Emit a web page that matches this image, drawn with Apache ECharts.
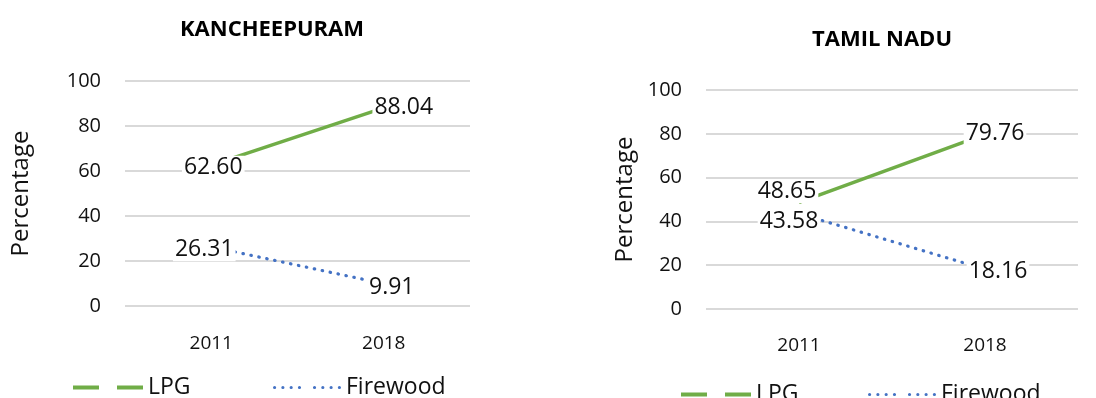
<!DOCTYPE html>
<html>
<head>
<meta charset="utf-8">
<script src="https://cdn.jsdelivr.net/npm/echarts@6/dist/echarts.min.js"></script>
<style>
  html, body { margin: 0; padding: 0; background: #ffffff; }
  #chart { width: 1096px; height: 398px; }
</style>
</head>
<body>
<div id="chart"></div>
<script>
// Household cooking fuel share (%), census 2011 vs survey 2018
const years = ['2011', '2018'];
const yTicks = [0, 20, 40, 60, 80, 100];

const kancheepuramLPG = [62.60, 88.04];
const kancheepuramFirewood = [26.31, 9.91];
const tamilNaduLPG = [48.65, 79.76];
const tamilNaduFirewood = [43.58, 18.16];

const FONT = '"Open Sans", "DejaVu Sans", sans-serif';
const GREEN = '#70AD47';
const BLUE = '#4472C4';
const GRID_GRAY = '#d9d9d9';

// Per-point label nudges so the value boxes sit clear of the lines
const labelNudge = {
  kLPG: [[2, 2], [20, 0]],
  kFire: [[-7, 3], [8, 4]],
  tLPG: [[-12, -11], [10, -1]],
  tFire: [[-10, 8], [13, 2]]
};

function points(values, nudges) {
  return values.map((v, i) => ({
    value: v,
    label: { offset: nudges[i] }
  }));
}

const valueLabel = {
  show: true,
  position: 'inside',
  fontFamily: FONT,
  fontSize: 23,
  color: '#111',
  backgroundColor: '#ffffff',
  padding: [0, 2],
  formatter: p => Number(p.value).toFixed(2)
};

// Legend glyphs: a long-dash pair for LPG, two runs of round dots for Firewood
function dotRun(x0, count, step, r) {
  let d = '';
  for (let i = 0; i < count; i++) {
    const cx = x0 + i * step;
    d += 'M' + (cx - r) + ',' + r + ' a' + r + ',' + r + ' 0 1,0 ' + (2 * r) + ',0 a' + r + ',' + r + ' 0 1,0 ' + (-2 * r) + ',0 ';
  }
  return d;
}
const LPG_ICON = 'path://M0,0h26v4h-26z M44,0h26v4h-26z';
const FIRE_ICON = 'path://' + dotRun(1.6, 4, 8.3, 1.6) + dotRun(41.6, 4, 8.3, 1.6);

function yAxis(gridIndex, nameGap) {
  return {
    type: 'value',
    gridIndex: gridIndex,
    min: yTicks[0],
    max: yTicks[yTicks.length - 1],
    interval: yTicks[1] - yTicks[0],
    name: 'Percentage',
    nameLocation: 'middle',
    nameGap: nameGap,
    nameTextStyle: { fontFamily: FONT, fontSize: 24, color: '#111' },
    axisLine: { show: false },
    axisTick: { show: false },
    axisLabel: { fontFamily: FONT, fontSize: 20, color: '#111', margin: 24 },
    splitLine: { lineStyle: { color: GRID_GRAY, width: 2 } }
  };
}

function xAxis(gridIndex, margin) {
  return {
    type: 'category',
    gridIndex: gridIndex,
    data: years,
    boundaryGap: true,
    axisLine: { show: false },
    axisTick: { show: false },
    axisLabel: { fontFamily: FONT, fontSize: 19, color: '#111', margin: margin },
    splitLine: { show: false }
  };
}

function lineSeries(name, idx, values, nudges, color, lineStyle) {
  return {
    name: name,
    type: 'line',
    xAxisIndex: idx,
    yAxisIndex: idx,
    data: points(values, nudges),
    symbol: 'circle',
    symbolSize: 0.1,
    showSymbol: true,
    lineStyle: Object.assign({ color: color }, lineStyle),
    itemStyle: { color: color },
    label: valueLabel,
    emphasis: { disabled: true },
    z: 2
  };
}

const lpgStyle = { width: 3.5 };
const fireStyle = { width: 3.2, type: [0.5, 7.6], cap: 'round' };

function legendItem(name, left, top) {
  const isLPG = name === 'LPG';
  return {
    left: left,
    top: top,
    data: [{ name: name, icon: isLPG ? LPG_ICON : FIRE_ICON }],
    itemWidth: isLPG ? 70 : 68,
    itemHeight: isLPG ? 4 : 3.2,
    itemGap: 6,
    selectedMode: false,
    itemStyle: { color: isLPG ? GREEN : BLUE, borderWidth: 0 },
    lineStyle: { width: 0 },
    textStyle: { fontFamily: FONT, fontSize: 23, color: '#111' }
  };
}

const chart = echarts.init(document.getElementById('chart'), null, { renderer: 'canvas' });

chart.setOption({
  backgroundColor: '#ffffff',
  animation: false,
  title: [
    {
      text: 'KANCHEEPURAM',
      left: 267, top: 14, textAlign: 'center',
      textStyle: { fontFamily: FONT, fontSize: 22, fontWeight: 'bold', color: '#000' }
    },
    {
      text: 'TAMIL NADU',
      left: 877, top: 24, textAlign: 'center',
      textStyle: { fontFamily: FONT, fontSize: 22, fontWeight: 'bold', color: '#000' }
    }
  ],
  grid: [
    { left: 125, top: 81, width: 345, height: 225 },
    { left: 706, top: 90, width: 372, height: 219 }
  ],
  xAxis: [xAxis(0, 28), xAxis(1, 27)],
  yAxis: [yAxis(0, 92), yAxis(1, 69)],
  legend: [
    legendItem('LPG', 68, 371),
    legendItem('Firewood', 268, 371),
    legendItem('LPG', 676, 378),
    legendItem('Firewood', 863, 378)
  ],
  series: [
    lineSeries('LPG', 0, kancheepuramLPG, labelNudge.kLPG, GREEN, lpgStyle),
    lineSeries('Firewood', 0, kancheepuramFirewood, labelNudge.kFire, BLUE, fireStyle),
    lineSeries('LPG', 1, tamilNaduLPG, labelNudge.tLPG, GREEN, lpgStyle),
    lineSeries('Firewood', 1, tamilNaduFirewood, labelNudge.tFire, BLUE, fireStyle)
  ]
});
</script>
</body>
</html>
